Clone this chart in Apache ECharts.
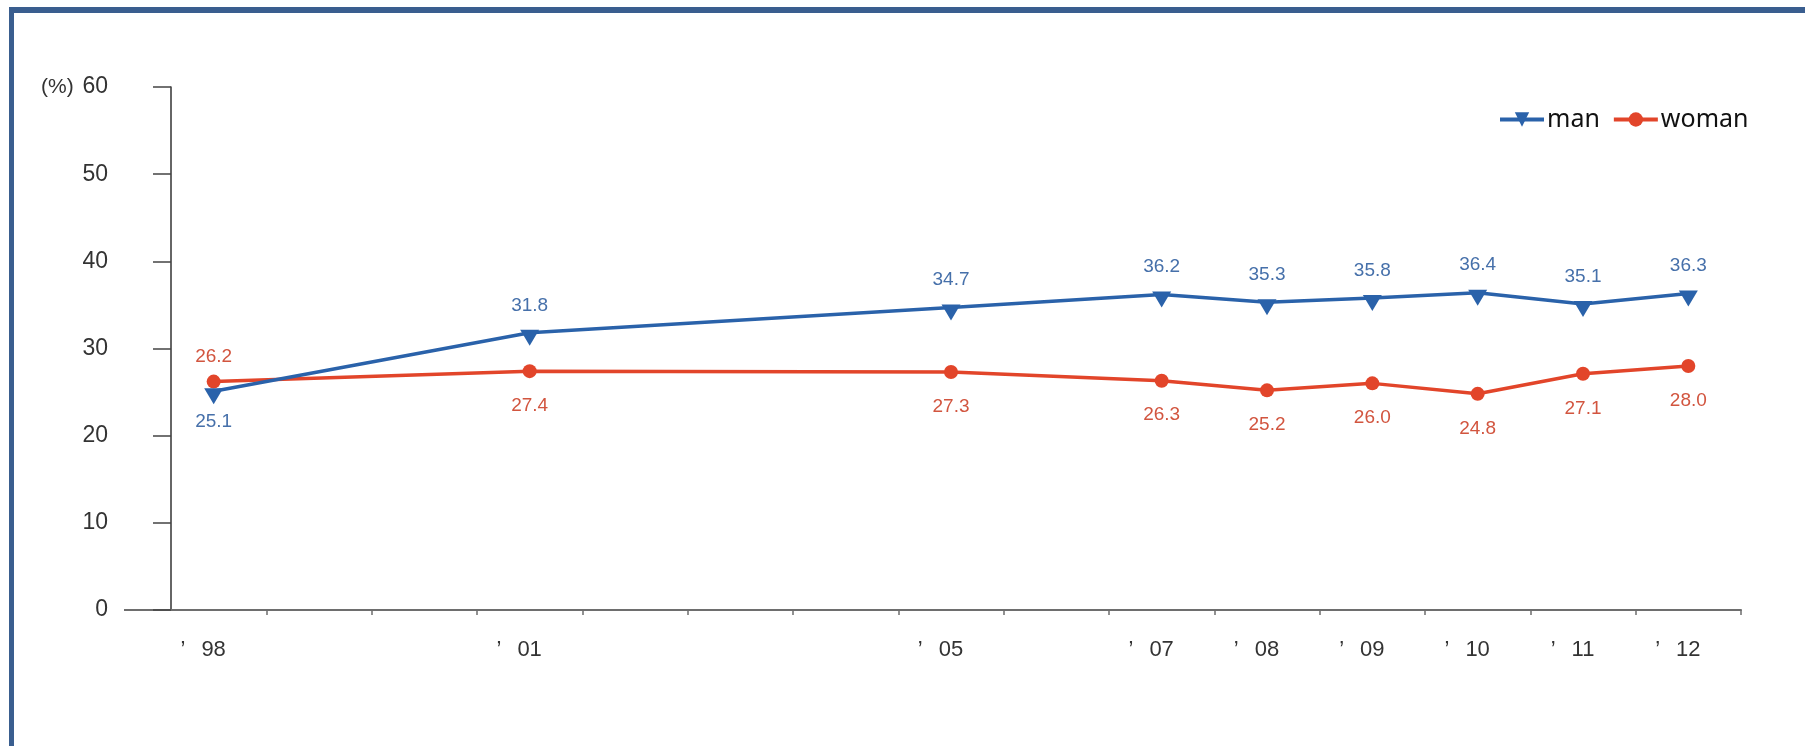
<!DOCTYPE html>
<html>
<head>
<meta charset="utf-8">
<script src="https://cdn.jsdelivr.net/npm/echarts@6/dist/echarts.min.js"></script>
<style>
html,body{margin:0;padding:0;background:#fff;overflow:hidden;}
#frame{position:absolute;left:9px;top:7px;width:2000px;height:1000px;border-top:6px solid #3a5e8f;border-left:5px solid #3a5e8f;box-sizing:border-box;}
#chart{position:absolute;left:0;top:0;width:1805px;height:746px;}
</style>
</head>
<body>
<div id="frame"></div>
<div id="chart"></div>
<script>
const years = ['98','99','00','01','02','03','04','05','06','07','08','09','10','11','12'];
const labeledYears = ['98','01','05','07','08','09','10','11','12'];
const manValues   = [25.1, null, null, 31.8, null, null, null, 34.7, null, 36.2, 35.3, 35.8, 36.4, 35.1, 36.3];
const womanValues = [26.2, null, null, 27.4, null, null, null, 27.3, null, 26.3, 25.2, 26.0, 24.8, 27.1, 28.0];
const yTicks = [0, 10, 20, 30, 40, 50, 60];

const BLUE = '#2a62aa', RED = '#e2452a';
const BLUE_LBL = '#4670aa', RED_LBL = '#d2553f';
const FONT = '"Liberation Sans", sans-serif';
const triPath = 'path://M0,0 L20,0 L10,17 Z';

function build(values, isMan) {
  return values.map((v, i) => {
    if (v === null) return null;
    const first = i === 0;
    let pos = isMan ? (first ? 'bottom' : 'top') : (first ? 'top' : 'bottom');
    let dist = first ? 8 : (isMan ? 15 : 18);
    return { value: v, label: { position: pos, distance: dist } };
  });
}

const chart = echarts.init(document.getElementById('chart'), null, {renderer: 'canvas'});
const option = {
  animation: false,
  title: {
    text: '(%)', left: 41, top: 77, padding: 0,
    textStyle: {fontFamily: FONT, fontSize: 21, fontWeight: 'normal', color: '#333'}
  },
  legend: {
    left: 1493, top: 102,
    itemWidth: 44, itemHeight: 18, itemGap: 12,
    textStyle: {fontFamily: 'Noto Sans', fontSize: 25, color: '#111', padding: [0,0,0,-2]},
    data: [
      {name: 'man', lineStyle: {width: 4}},
      {name: 'woman', lineStyle: {width: 4}}
    ]
  },
  grid: {left: 161, right: 64, top: 87, bottom: 136},
  xAxis: {
    type: 'category',
    data: years,
    boundaryGap: true,
    axisLine: {lineStyle: {color: '#6e6e6e', width: 2}},
    axisTick: {show: true, length: 5, interval: (i) => i !== 0, lineStyle: {color: '#6e6e6e', width: 1.5}},
    axisLabel: {
      interval: 0, margin: 29,
      formatter: (v) => labeledYears.includes(v) ? '{a|’}{b|' + v + '}' : '',
      rich: {
        a: {fontFamily: FONT, fontSize: 22, color: '#333', padding: [0, 16, 0, 0]},
        b: {fontFamily: FONT, fontSize: 22, color: '#333', padding: [0, 21, 0, 0]}
      }
    }
  },
  yAxis: {
    type: 'value', min: 0, max: 60, interval: 10, offset: -10,
    axisLine: {show: true, lineStyle: {color: '#333', width: 1.5}},
    axisTick: {show: true, length: 18, lineStyle: {color: '#444', width: 1.5}},
    splitLine: {show: false},
    axisLabel: {
      margin: 63, fontFamily: FONT, fontSize: 23, color: '#333',
      formatter: (v) => yTicks.includes(v) ? String(v) : ''
    }
  },
  series: [
    {
      name: 'man', type: 'line', connectNulls: true,
      data: build(manValues, true),
      symbol: triPath, symbolSize: [19, 16], symbolOffset: [0, 5],
      itemStyle: {color: BLUE},
      lineStyle: {color: BLUE, width: 3.5},
      label: {show: true, fontFamily: FONT, fontSize: 19, color: BLUE_LBL,
        formatter: (p) => p.value.toFixed(1)},
      z: 3
    },
    {
      name: 'woman', type: 'line', connectNulls: true,
      data: build(womanValues, false),
      symbol: 'circle', symbolSize: 14,
      itemStyle: {color: RED},
      lineStyle: {color: RED, width: 3.5},
      label: {show: true, fontFamily: FONT, fontSize: 19, color: RED_LBL,
        formatter: (p) => p.value.toFixed(1)},
      z: 2
    }
  ]
};
chart.setOption(option);
const y0 = chart.convertToPixel({yAxisIndex: 0}, 0);
const gridLeft = option.grid.left;
chart.setOption({
  graphic: [{
    type: 'line', silent: true,
    shape: {x1: 124, y1: y0, x2: gridLeft, y2: y0},
    style: {stroke: '#6e6e6e', lineWidth: 2}
  }]
});
</script>
</body>
</html>
